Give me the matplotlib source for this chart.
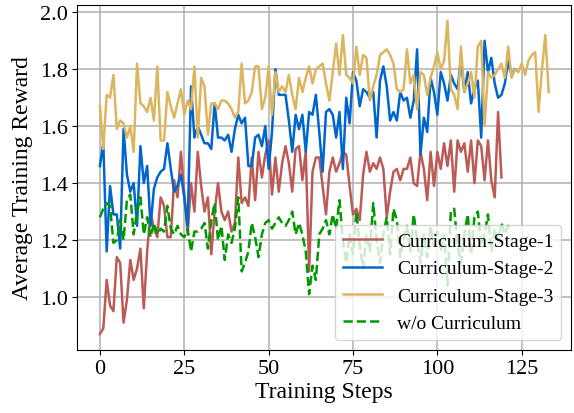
import matplotlib
matplotlib.use("Agg")
import matplotlib.pyplot as plt

# values, one per training step
stage1 = [0.87, 0.89, 1.06, 0.97, 0.95, 1.14, 1.12, 0.91, 0.99, 1.13,
          1.06, 1.10, 1.17, 0.96, 1.16, 1.30, 1.24, 1.21, 1.35, 1.32,
          1.21, 1.21, 1.41, 1.35, 1.51, 1.36, 1.22, 1.40, 1.30, 1.51,
          1.39, 1.30, 1.35, 1.15, 1.30, 1.40, 1.30, 1.27, 1.30, 1.23,
          1.26, 1.49, 1.33, 1.35, 1.32, 1.49, 1.34, 1.51, 1.42, 1.50,
          1.55, 1.36, 1.49, 1.37, 1.47, 1.53, 1.47, 1.37, 1.52, 1.53,
          1.41, 1.51, 1.09, 1.44, 1.49, 1.49, 1.39, 1.29, 1.44, 1.49,
          1.44, 1.47, 1.51, 1.50, 1.39, 1.29, 1.31, 1.27, 1.43, 1.51,
          1.44, 1.47, 1.45, 1.49, 1.45, 1.28, 1.37, 1.44, 1.45, 1.41,
          1.45, 1.45, 1.49, 1.40, 1.39, 1.51, 1.45, 1.34, 1.51, 1.39,
          1.51, 1.45, 1.54, 1.46, 1.55, 1.37, 1.55, 1.51, 1.54, 1.44,
          1.55, 1.40, 1.55, 1.53, 1.41, 1.55, 1.41, 1.35, 1.65, 1.42]

stage2 = [1.46, 1.54, 1.16, 1.39, 1.29, 1.29, 1.17, 1.59, 1.43, 1.37,
          1.40, 1.25, 1.53, 1.40, 1.46, 1.25, 1.38, 1.42, 1.44, 1.45,
          1.54, 1.45, 1.37, 1.39, 1.43, 1.35, 1.25, 1.74, 1.56, 1.60,
          1.57, 1.54, 1.54, 1.52, 1.68, 1.56, 1.56, 1.55, 1.57, 1.51,
          1.59, 1.64, 1.61, 1.63, 1.46, 1.46, 1.56, 1.57, 1.53, 1.60,
          1.45, 1.58, 1.80, 1.71, 1.71, 1.71, 1.62, 1.51, 1.64, 1.59,
          1.64, 1.51, 1.65, 1.64, 1.71, 1.58, 1.44, 1.65, 1.66, 1.64,
          1.56, 1.65, 1.45, 1.70, 1.61, 1.79, 1.76, 1.67, 1.73, 1.72,
          1.70, 1.72, 1.56, 1.76, 1.81, 1.74, 1.62, 1.65, 1.62, 1.72,
          1.69, 1.70, 1.63, 1.69, 1.87, 1.50, 1.63, 1.58, 1.77, 1.72,
          1.64, 1.79, 1.75, 1.69, 1.78, 1.75, 1.73, 1.84, 1.72, 1.79,
          1.68, 1.73, 1.76, 1.56, 1.90, 1.79, 1.84, 1.75, 1.70, 1.71,
          1.75, 1.83, 1.78, 1.80]

stage3 = [1.67, 1.52, 1.71, 1.70, 1.78, 1.59, 1.62, 1.61, 1.56, 1.60,
          1.51, 1.82, 1.68, 1.67, 1.65, 1.70, 1.62, 1.81, 1.55, 1.55,
          1.72, 1.67, 1.63, 1.68, 1.73, 1.64, 1.69, 1.66, 1.81, 1.56,
          1.77, 1.74, 1.57, 1.68, 1.68, 1.66, 1.69, 1.69, 1.68, 1.66,
          1.63, 1.65, 1.82, 1.68, 1.69, 1.72, 1.81, 1.81, 1.66, 1.70,
          1.81, 1.64, 1.79, 1.72, 1.74, 1.72, 1.78, 1.71, 1.66, 1.77,
          1.72, 1.77, 1.81, 1.75, 1.80, 1.81, 1.82, 1.75, 1.69, 1.79,
          1.89, 1.78, 1.92, 1.78, 1.77, 1.75, 1.88, 1.78, 1.85, 1.84,
          1.69, 1.74, 1.78, 1.85, 1.86, 1.87, 1.85, 1.82, 1.73, 1.72,
          1.73, 1.87, 1.75, 1.78, 1.66, 1.79, 1.78, 1.71, 1.77, 1.81,
          1.86, 1.80, 1.83, 1.97, 1.73, 1.71, 1.66, 1.88, 1.72, 1.75,
          1.79, 1.70, 1.88, 1.90, 1.60, 1.79, 1.77, 1.78, 1.80, 1.82,
          1.77, 1.88, 1.77, 1.80, 1.79, 1.82, 1.78, 1.83, 1.85, 1.86,
          1.65, 1.80, 1.92, 1.72]

no_curriculum = [1.28, 1.31, 1.33, 1.32, 1.19, 1.20, 1.27, 1.20, 1.34, 1.36,
                 1.22, 1.30, 1.35, 1.22, 1.28, 1.21, 1.26, 1.22, 1.24, 1.23,
                 1.32, 1.24, 1.22, 1.25, 1.22, 1.21, 1.24, 1.16, 1.23, 1.23,
                 1.24, 1.26, 1.17, 1.27, 1.33, 1.20, 1.25, 1.13, 1.22, 1.19,
                 1.24, 1.35, 1.09, 1.12, 1.16, 1.26, 1.21, 1.14, 1.22, 1.26,
                 1.27, 1.24, 1.26, 1.28, 1.26, 1.25, 1.27, 1.30, 1.22, 1.26,
                 1.22, 1.16, 1.01, 1.11, 1.06, 1.22, 1.24, 1.27, 1.22, 1.29,
                 1.24, 1.34, 1.20, 1.12, 1.22, 1.15, 1.30, 1.18, 1.10, 1.22,
                 1.16, 1.33, 1.20, 1.12, 1.22, 1.28, 1.15, 1.31, 1.27, 1.14,
                 1.20, 1.25, 1.16, 1.29, 1.20, 1.12, 1.22, 1.14, 1.25, 1.18,
                 1.23, 1.16, 1.22, 1.04, 1.30, 1.31, 1.18, 1.12, 1.22, 1.29,
                 1.15, 1.28, 1.30, 1.18, 1.22, 1.29, 1.16, 1.24, 1.20, 1.26,
                 1.22, 1.25, 1.23]

series = [
    ("Curriculum-Stage-1", stage1, "#BC5A55", "-"),
    ("Curriculum-Stage-2", stage2, "#0066CC", "-"),
    ("Curriculum-Stage-3", stage3, "#DCB55E", "-"),
    ("w/o Curriculum", no_curriculum, "#009A00", "--"),
]

plt.rcParams["font.family"] = ["Liberation Serif", "DejaVu Serif"]

fig, ax = plt.subplots(figsize=(5.74, 4.14), dpi=100)
fig.subplots_adjust(left=0.135, right=0.995, top=0.985, bottom=0.153)

for label, values, color, style in series:
    ax.plot(range(len(values)), values, linestyle=style, color=color, linewidth=1.8, label=label)

ax.grid(True, color="#b0b0b0", linewidth=1.1)
ax.set_xticks([0, 25, 50, 75, 100, 125])
ax.set_yticks([1.0, 1.2, 1.4, 1.6, 1.8, 2.0])
ax.tick_params(labelsize=16)
ax.set_xlabel("Training Steps", fontsize=17, labelpad=2)
ax.set_ylabel("Average Training Reward", fontsize=17, labelpad=5)
ax.legend(loc="lower right", fontsize=14)

fig.savefig("out.png", dpi=100)
